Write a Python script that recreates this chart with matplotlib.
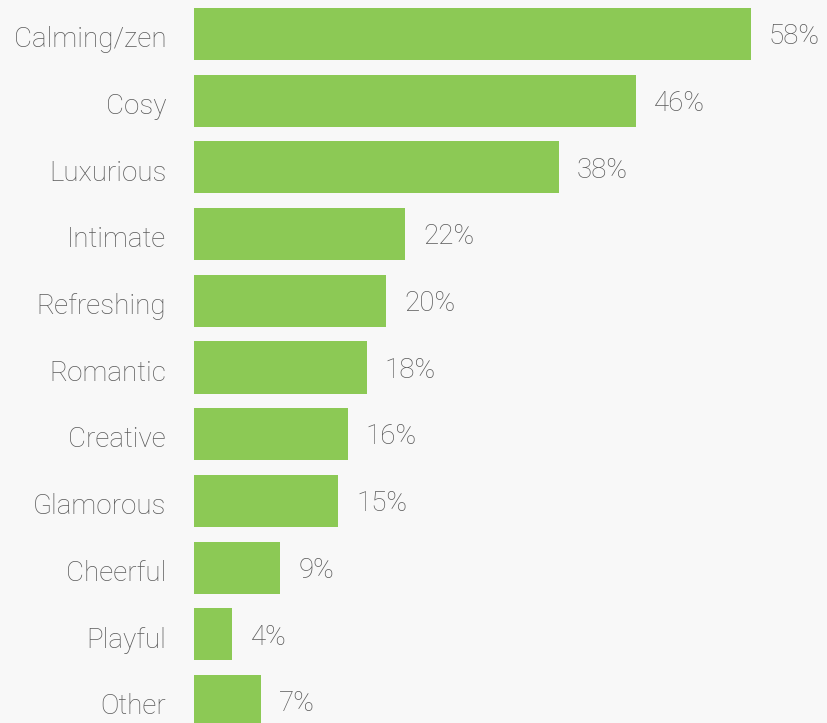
import matplotlib.pyplot as plt
import matplotlib.transforms as mtransforms

categories = ["Calming/zen", "Cosy", "Luxurious", "Intimate", "Refreshing",
              "Romantic", "Creative", "Glamorous", "Cheerful", "Playful", "Other"]
values = [58, 46, 38, 22, 20, 18, 16, 15, 9, 4, 7]

bg = "#f8f8f8"
green = "#8cc955"
grey = "#5a5a5a"

plt.rcParams['font.family'] = ['Roboto', 'DejaVu Sans']
plt.rcParams['font.weight'] = 'light'

fig = plt.figure(figsize=(8.28, 7.23), dpi=100, facecolor=bg)
ax = fig.add_axes([194 / 828, 0, 1 - 194 / 828, 1], facecolor=bg)

ypos = list(range(len(categories)))
ax.barh(ypos, values, height=0.78, color=green)

# percentage labels just past the end of each bar
for y, v in zip(ypos, values):
    ax.annotate(f"{v}%", (v, y), xytext=(13, -2), textcoords="offset points",
                va="center", ha="left", fontsize=20, color=grey)

ax.set_yticks(ypos)
ax.set_yticklabels(categories, fontsize=20, color=grey)
ax.tick_params(axis="y", length=0, pad=20)
shift = mtransforms.ScaledTranslation(0, -2 / 72, fig.dpi_scale_trans)
for lbl in ax.get_yticklabels():
    lbl.set_transform(lbl.get_transform() + shift)
ax.set_xticks([])
ax.set_xlim(0, 634 / 9.6)
ax.set_ylim(10.33, -0.51)
for s in ax.spines.values():
    s.set_visible(False)

fig.savefig("out.png", dpi=100, facecolor=bg)
